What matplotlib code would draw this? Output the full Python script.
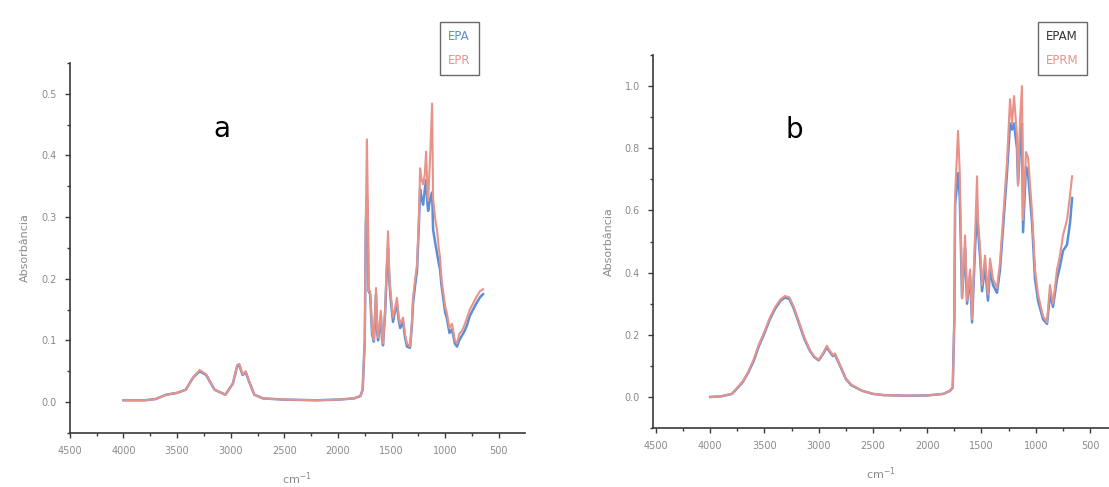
import matplotlib
matplotlib.use("Agg")
import matplotlib.pyplot as plt
from matplotlib.ticker import MultipleLocator, FormatStrFormatter

# ---------------- data ----------------
wn_a = [4000, 3800, 3700, 3600, 3500, 3420, 3350, 3290, 3230, 3150, 3050, 2980, 2940, 2920,
        2890, 2860, 2830, 2780, 2700, 2500, 2200, 2000, 1850, 1790, 1770, 1750, 1740, 1730,
        1722, 1715, 1700, 1682, 1665, 1645, 1635, 1626, 1600, 1590, 1580, 1560, 1543, 1533,
        1520, 1510, 1487, 1470, 1450, 1435, 1420, 1393, 1375, 1356, 1328, 1310, 1300, 1280,
        1262, 1245, 1234, 1220, 1206, 1190, 1178, 1165, 1159, 1140, 1122, 1113, 1095, 1075,
        1060, 1048, 1035, 1020, 1000, 983, 960, 936, 910, 890, 870, 843, 820, 796, 770, 740,
        710, 675, 647]
epr = [0.003, 0.003, 0.005, 0.012, 0.015, 0.020, 0.040, 0.052, 0.045, 0.020, 0.012, 0.030, 0.060, 0.062,
       0.045, 0.050, 0.035, 0.012, 0.006, 0.004, 0.003, 0.004, 0.006, 0.010, 0.020, 0.100, 0.300, 0.426,
       0.330, 0.180, 0.180, 0.116, 0.100, 0.185, 0.120, 0.105, 0.148, 0.110, 0.095, 0.150, 0.234, 0.277,
       0.200, 0.180, 0.137, 0.150, 0.169, 0.140, 0.127, 0.137, 0.110, 0.095, 0.090, 0.130, 0.169, 0.200,
       0.224, 0.300, 0.379, 0.360, 0.353, 0.370, 0.406, 0.340, 0.326, 0.400, 0.484, 0.331, 0.300, 0.277,
       0.250, 0.234, 0.200, 0.180, 0.155, 0.143, 0.120, 0.127, 0.100, 0.095, 0.110, 0.116, 0.125, 0.137, 0.150, 0.160,
       0.170, 0.180, 0.183]
epa = [0.003, 0.003, 0.005, 0.012, 0.015, 0.020, 0.040, 0.050, 0.044, 0.020, 0.012, 0.030, 0.058, 0.060,
       0.044, 0.048, 0.034, 0.012, 0.006, 0.004, 0.003, 0.004, 0.006, 0.010, 0.020, 0.100, 0.290, 0.330,
       0.300, 0.180, 0.175, 0.110, 0.098, 0.175, 0.115, 0.100, 0.140, 0.105, 0.092, 0.145, 0.220, 0.250,
       0.195, 0.170, 0.130, 0.145, 0.160, 0.135, 0.120, 0.130, 0.105, 0.090, 0.088, 0.125, 0.160, 0.190,
       0.215, 0.290, 0.345, 0.330, 0.320, 0.345, 0.360, 0.320, 0.310, 0.330, 0.340, 0.280, 0.260, 0.240,
       0.225, 0.215, 0.190, 0.170, 0.145, 0.135, 0.112, 0.118, 0.095, 0.090, 0.100, 0.108, 0.115, 0.125, 0.140, 0.150,
       0.160, 0.170, 0.175]

wn_b = [4000, 3900, 3800, 3750, 3700, 3650, 3600, 3550, 3500, 3450, 3400, 3350, 3310, 3270,
        3230, 3180, 3130, 3080, 3040, 3000, 2960, 2925, 2900, 2870, 2850, 2800, 2750, 2700,
        2600, 2500, 2400, 2200, 2000, 1850, 1790, 1765, 1750, 1743, 1716, 1700, 1679, 1651,
        1633, 1605, 1587, 1559, 1541, 1532, 1513, 1495, 1467, 1440, 1421, 1394, 1357, 1329,
        1302, 1265, 1237, 1219, 1200, 1173, 1163, 1145, 1127, 1117, 1090, 1071, 1034, 1007,
        979, 933, 896, 869, 841, 804, 777, 749, 712, 684, 665]
eprm = [0.000, 0.002, 0.010, 0.030, 0.050, 0.080, 0.120, 0.170, 0.210, 0.255, 0.290, 0.315, 0.325, 0.320,
        0.290, 0.240, 0.190, 0.150, 0.130, 0.120, 0.140, 0.165, 0.150, 0.135, 0.140, 0.100, 0.060, 0.040,
        0.020, 0.010, 0.006, 0.004, 0.005, 0.010, 0.020, 0.030, 0.260, 0.650, 0.856, 0.720, 0.317, 0.520,
        0.310, 0.410, 0.250, 0.520, 0.710, 0.570, 0.480, 0.360, 0.455, 0.330, 0.445, 0.380, 0.350, 0.435,
        0.570, 0.756, 0.958, 0.880, 0.968, 0.840, 0.680, 0.890, 1.000, 0.570, 0.788, 0.770, 0.595, 0.410,
        0.330, 0.260, 0.240, 0.360, 0.300, 0.410, 0.455, 0.520, 0.570, 0.650, 0.710]
epam = [0.000, 0.002, 0.010, 0.028, 0.048, 0.078, 0.115, 0.165, 0.205, 0.250, 0.285, 0.310, 0.320, 0.315,
        0.285, 0.235, 0.185, 0.148, 0.128, 0.118, 0.138, 0.160, 0.146, 0.132, 0.136, 0.098, 0.058, 0.038,
        0.020, 0.010, 0.006, 0.004, 0.005, 0.010, 0.020, 0.030, 0.250, 0.620, 0.720, 0.640, 0.320, 0.480,
        0.300, 0.390, 0.240, 0.480, 0.600, 0.540, 0.450, 0.340, 0.420, 0.310, 0.410, 0.360, 0.335, 0.410,
        0.540, 0.720, 0.880, 0.860, 0.880, 0.800, 0.686, 0.800, 0.880, 0.530, 0.740, 0.720, 0.560, 0.380,
        0.310, 0.250, 0.235, 0.330, 0.290, 0.380, 0.420, 0.470, 0.490, 0.560, 0.640]

x_ticks = [4500, 4000, 3500, 3000, 2500, 2000, 1500, 1000, 500]

# ---------------- styles ----------------
RED = "#e8938a"
BLUE = "#5a8fd8"
GRAY = "#8a8a8a"
AXC = "#3a3a3a"

fig = plt.figure(figsize=(11.09, 4.87), dpi=100)
fig.patch.set_facecolor("white")

ax1 = fig.add_axes([0.063, 0.111, 0.410, 0.760])
ax2 = fig.add_axes([0.589, 0.121, 0.411, 0.766])


def style(ax, ymaj, ymin, ylim, xlim):
    ax.set_xlim(*xlim)
    ax.set_ylim(*ylim)
    for s in ("top", "right"):
        ax.spines[s].set_visible(False)
    for s in ("left", "bottom"):
        ax.spines[s].set_color(AXC)
        ax.spines[s].set_linewidth(1.2)
    ax.set_xticks(x_ticks)
    ax.xaxis.set_minor_locator(MultipleLocator(250))
    ax.yaxis.set_major_locator(MultipleLocator(ymaj))
    ax.yaxis.set_minor_locator(MultipleLocator(ymin))
    ax.yaxis.set_major_formatter(FormatStrFormatter("%.1f"))
    ax.tick_params(which="major", direction="out", length=3.5, width=1.0,
                   color=AXC, labelsize=7, labelcolor=GRAY, pad=6)
    ax.tick_params(which="minor", direction="out", length=2, width=1.0, color=AXC)
    ax.set_ylabel("Absorbância", fontsize=8, color=GRAY, labelpad=8)
    ax.set_xlabel("cm$^{-1}$", fontsize=8, color=GRAY, labelpad=10)


style(ax1, 0.1, 0.05, (-0.05, 0.55), (4500, 260))
style(ax2, 0.2, 0.1, (-0.1, 1.1), (4525, 325))

l1, = ax1.plot(wn_a, epa, color=BLUE, lw=1.8)
l2, = ax1.plot(wn_a, epr, color=RED, lw=1.5)
l3, = ax2.plot(wn_b, epam, color=BLUE, lw=1.8)
l4, = ax2.plot(wn_b, eprm, color=RED, lw=1.5)

ax1.text(0.335, 0.82, "a", transform=ax1.transAxes, fontsize=20, ha="center", va="center")
ax2.text(0.31, 0.80, "b", transform=ax2.transAxes, fontsize=20, ha="center", va="center")


def make_legend(handles, labels, colors, x_px):
    leg = fig.legend(handles, labels, loc="upper left",
                     bbox_to_anchor=(x_px / 1109, 1 - 22 / 487), handlelength=0, handletextpad=0,
                     fontsize=8.5, frameon=True, fancybox=False, borderpad=0.7, labelspacing=0.9,
                     borderaxespad=0)
    leg.get_frame().set_edgecolor("#444444")
    leg.get_frame().set_linewidth(1.0)
    for t, c in zip(leg.get_texts(), colors):
        t.set_color(c)
    for h in leg.legend_handles:
        h.set_visible(False)
    return leg


make_legend([l1, l2], ["EPA", "EPR"], [BLUE, RED], 440)
make_legend([l3, l4], ["EPAM", "EPRM"], ["#333333", RED], 1038)

fig.savefig("out.png", dpi=100, facecolor="white")
